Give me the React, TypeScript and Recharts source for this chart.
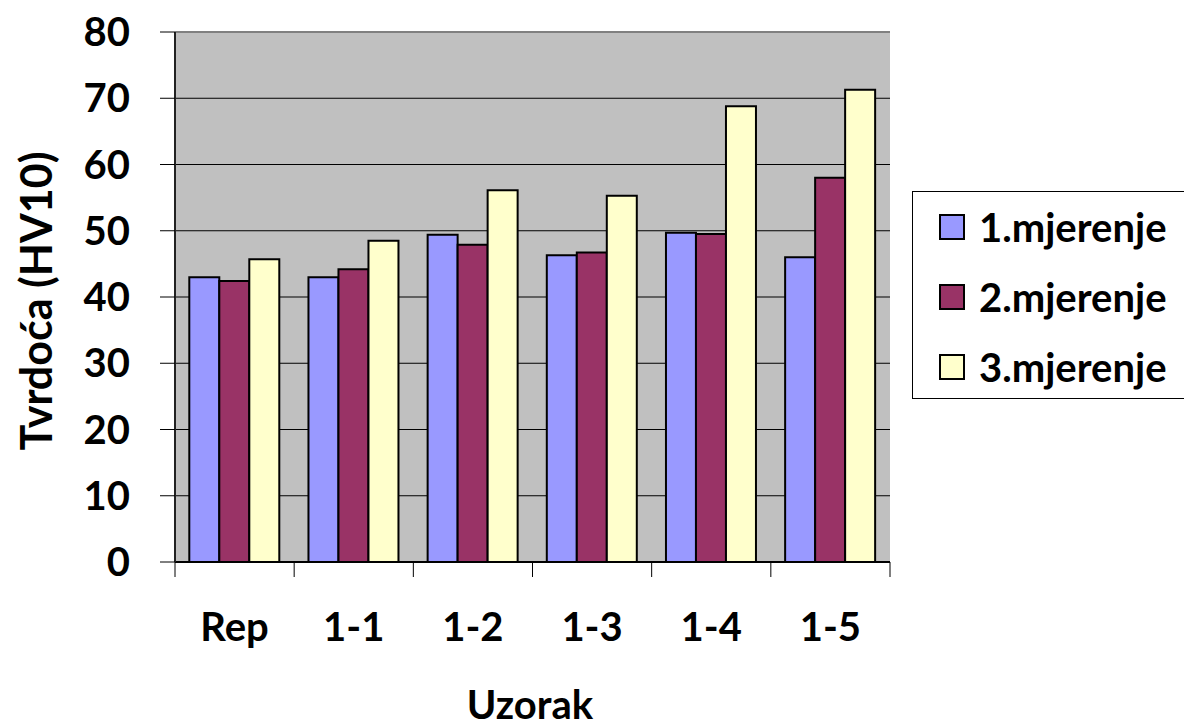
import { BarChart, Bar, XAxis, YAxis, CartesianGrid, ReferenceLine } from 'recharts'

const categories = ['Rep', '1-1', '1-2', '1-3', '1-4', '1-5']
const mjerenje1 = [43.0, 43.0, 49.4, 46.3, 49.7, 46.0]
const mjerenje2 = [42.4, 44.2, 47.9, 46.7, 49.5, 58.0]
const mjerenje3 = [45.7, 48.5, 56.1, 55.3, 68.8, 71.3]
const seriesNames = ['1.mjerenje', '2.mjerenje', '3.mjerenje']
const seriesColors = ['#9999FF', '#993366', '#FFFFCC']
const yTicks = [0, 10, 20, 30, 40, 50, 60, 70, 80]

const data = categories.map((c, i) => ({
  name: c,
  m1: mjerenje1[i],
  m2: mjerenje2[i],
  m3: mjerenje3[i],
}))

const FONT = 'Lato, "Open Sans", sans-serif'
const HALF_BAND = (890 - 175) / categories.length / 2

function XTick(props: any) {
  const { x, y, payload, index } = props
  const last = index === categories.length - 1
  return (
    <g>
      <line x1={x - HALF_BAND} x2={x - HALF_BAND} y1={y - 15} y2={y} stroke="#000" strokeWidth={1} />
      {last && <line x1={x + HALF_BAND} x2={x + HALF_BAND} y1={y - 15} y2={y} stroke="#000" strokeWidth={1} />}
      <text x={x} y={y + 64} textAnchor="middle" fontFamily={FONT} fontWeight={700} fontSize={40} fill="#000">
        {payload.value}
      </text>
    </g>
  )
}

export default function App() {
  return (
    <div style={{ position: 'absolute', left: 0, top: 0, width: 1184, height: 728, background: '#fff' }}>
      <BarChart
        width={1184}
        height={728}
        data={data}
        margin={{ top: 32, right: 294, left: 0, bottom: 0 }}
        barCategoryGap="12%"
        barGap={0}
      >
        <CartesianGrid fill="#C0C0C0" stroke="#000" vertical={false} strokeWidth={1} />
        <ReferenceLine y={80} stroke="#808080" strokeWidth={2} />
        <XAxis
          dataKey="name"
          height={166}
          tickSize={15}
          tickMargin={0}
          tickLine={false}
          axisLine={{ stroke: '#000', strokeWidth: 2 }}
          tick={<XTick />}
          interval={0}
          label={{
            content: () => (
              <text x={530} y={719} textAnchor="middle" fontFamily={FONT} fontWeight={700} fontSize={40} fill="#000">
                Uzorak
              </text>
            ),
          }}
        />
        <YAxis
          width={175}
          domain={[0, 80]}
          ticks={yTicks}
          interval={0}
          tickSize={15}
          tickMargin={30}
          axisLine={{ stroke: '#222', strokeWidth: 2 }}
          tickLine={{ stroke: '#000' }}
          tick={{ fontFamily: FONT, fontWeight: 700, fontSize: 40, fill: '#000' }}
          label={{
            content: () => (
              <text
                x={35}
                y={301}
                transform="rotate(-90, 35, 301)"
                textAnchor="middle"
                dominantBaseline="central"
                fontFamily={FONT}
                fontWeight={700}
                fontSize={43}
                fill="#000"
              >
                Tvrdoća (HV10)
              </text>
            ),
          }}
        />
        <YAxis yAxisId="border" orientation="right" width={0} tick={false} tickLine={false} axisLine={{ stroke: '#808080', strokeWidth: 2 }} />
        <Bar dataKey="m1" name={seriesNames[0]} fill={seriesColors[0]} stroke="#000" strokeWidth={2} isAnimationActive={false} />
        <Bar dataKey="m2" name={seriesNames[1]} fill={seriesColors[1]} stroke="#000" strokeWidth={2} isAnimationActive={false} />
        <Bar dataKey="m3" name={seriesNames[2]} fill={seriesColors[2]} stroke="#000" strokeWidth={2} isAnimationActive={false} />
      </BarChart>
      <div
        style={{
          position: 'absolute',
          left: 912,
          top: 191,
          width: 290,
          height: 208,
          border: '1px solid #000',
          boxSizing: 'border-box',
          background: '#fff',
          fontFamily: FONT,
          fontWeight: 700,
          fontSize: 40,
          color: '#000',
        }}
      >
        {seriesNames.map((n, i) => (
          <div
            key={n}
            style={{ position: 'absolute', left: 26, top: 13 + i * 70, height: 44, display: 'flex', alignItems: 'center', whiteSpace: 'nowrap' }}
          >
            <span
              style={{
                display: 'inline-block',
                width: 22,
                height: 22,
                background: seriesColors[i],
                border: '2px solid #000',
                marginRight: 14,
              }}
            />
            <span style={{ lineHeight: '44px' }}>{n}</span>
          </div>
        ))}
      </div>
    </div>
  )
}
